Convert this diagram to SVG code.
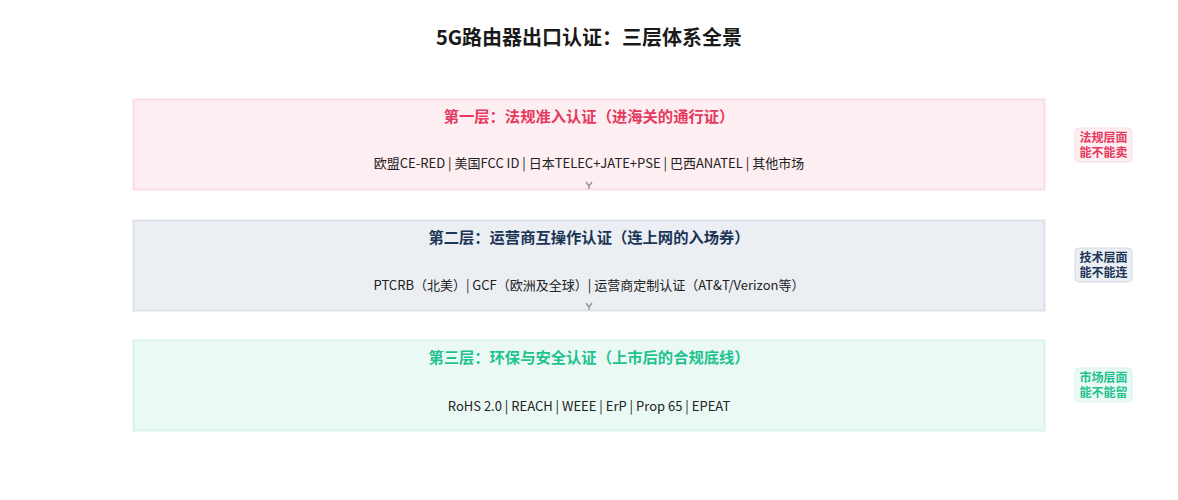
<svg xmlns="http://www.w3.org/2000/svg" width="1178" height="500" viewBox="0 0 1178 500">
<style>
text{font-family:"Noto Sans CJK SC","Noto Sans",sans-serif;text-anchor:middle}
.title{font-size:20px;font-weight:700;fill:#1a1a1a}
.lt{font-size:15.3px;font-weight:700}
.body{font-size:13px;fill:#222}
.bt{font-size:12px;font-weight:700}
.arr{fill:none;stroke:#999;stroke-width:1.5}
</style>
<rect width="1178" height="500" fill="#fff"/>
<text class="title" x="589" y="45">5G路由器出口认证：三层体系全景</text>
<g id="layer1">
<rect x="133.5" y="99.5" width="911" height="90" fill="#fdeef1" stroke="#fbdde3" stroke-width="2"/>
<text class="lt" x="589" y="122" fill="#e6395f">第一层：法规准入认证（进海关的通行证）</text>
<text class="body" x="589" y="168">欧盟CE-RED | 美国FCC ID | 日本TELEC+JATE+PSE | 巴西ANATEL | 其他市场</text>
</g>
<g id="layer2">
<rect x="133.5" y="220.5" width="911" height="90" fill="#ebeef2" stroke="#dde2e8" stroke-width="2"/>
<text class="lt" x="589" y="243" fill="#1b3557">第二层：运营商互操作认证（连上网的入场券）</text>
<text class="body" x="589" y="290">PTCRB（北美）| GCF（欧洲及全球）| 运营商定制认证（AT&amp;T/Verizon等）</text>
</g>
<g id="layer3">
<rect x="133.5" y="340.5" width="911" height="90" fill="#ebf9f5" stroke="#d8f4ea" stroke-width="2"/>
<text class="lt" x="589" y="363" fill="#1fc38f">第三层：环保与安全认证（上市后的合规底线）</text>
<text class="body" x="589" y="411">RoHS 2.0 | REACH | WEEE | ErP | Prop 65 | EPEAT</text>
</g>
<g id="badge1">
<rect x="1075" y="128" width="57" height="34" rx="4" fill="#fdeef1" stroke="#fbdde3"/>
<text class="bt" x="1103.5" y="142" fill="#e6395f">法规层面</text>
<text class="bt" x="1103.5" y="157" fill="#e6395f">能不能卖</text>
</g>
<g id="badge2">
<rect x="1075" y="248" width="57" height="34" rx="4" fill="#ebeef2" stroke="#d3d9e0"/>
<text class="bt" x="1103.5" y="262" fill="#1b3557">技术层面</text>
<text class="bt" x="1103.5" y="277" fill="#1b3557">能不能连</text>
</g>
<g id="badge3">
<rect x="1075" y="368" width="57" height="34" rx="4" fill="#ebf9f5" stroke="#d8f4ea"/>
<text class="bt" x="1103.5" y="382" fill="#1fc38f">市场层面</text>
<text class="bt" x="1103.5" y="397" fill="#1fc38f">能不能留</text>
</g>
<g id="connectors">
<path class="arr" d="M586,182 L589,186 L592,182 M589,186 L589,189"/>
<path class="arr" d="M586,303 L589,307 L592,303 M589,307 L589,310"/>
</g>
</svg>
